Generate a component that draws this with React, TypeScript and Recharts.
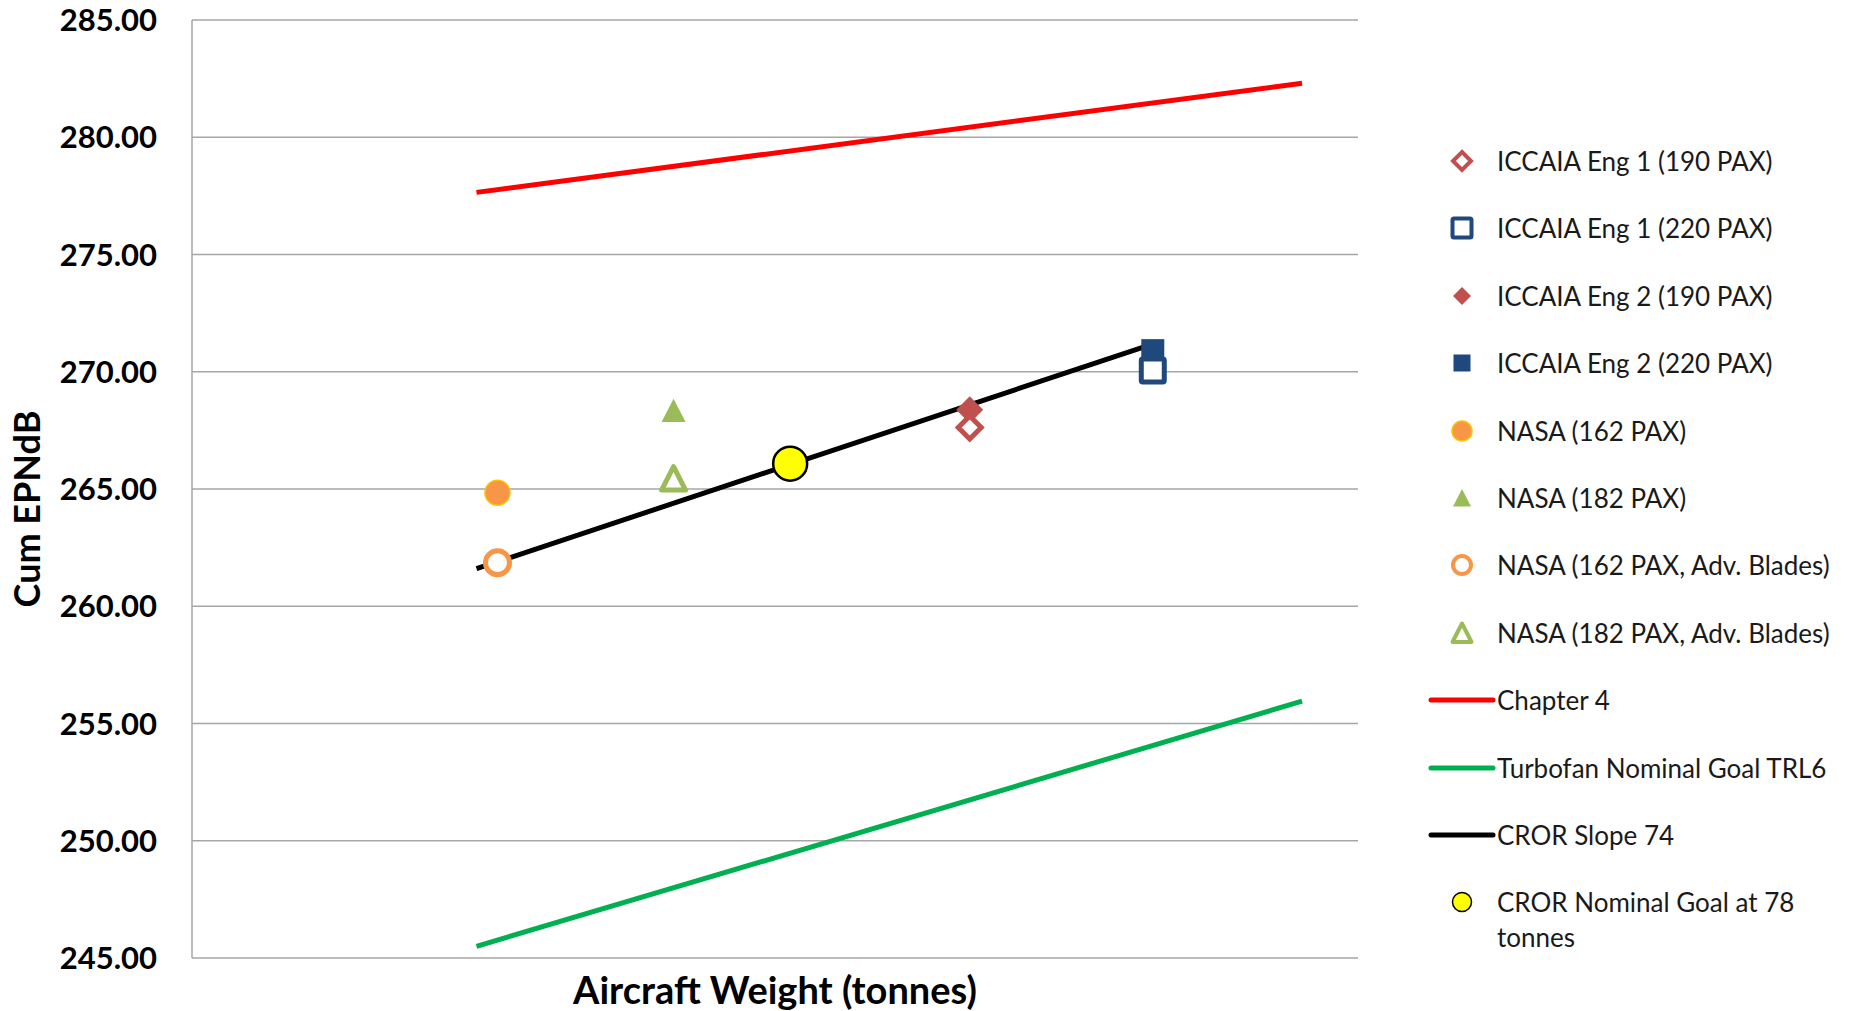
import React from "react";
import {
    ComposedChart,
    Line,
    Scatter,
    XAxis,
    YAxis,
    CartesianGrid,
} from "recharts";

const FONT = "Lato, 'Liberation Sans', Arial, sans-serif";

// the original has no weight scale, so x runs 0-100 across the plot
const chapter4X = [24.4, 95.2];
const chapter4Y = [277.65, 282.3];
const turbofanGoalX = [24.4, 95.2];
const turbofanGoalY = [245.5, 255.95];
const crorSlopeX = [24.4, 81.6];
const crorSlopeY = [261.6, 271.05];

const markerNames = [
    "ICCAIA Eng 1 (190 PAX)",
    "ICCAIA Eng 1 (220 PAX)",
    "ICCAIA Eng 2 (190 PAX)",
    "ICCAIA Eng 2 (220 PAX)",
    "NASA (162 PAX)",
    "NASA (182 PAX)",
    "NASA (162 PAX, Adv. Blades)",
    "NASA (182 PAX, Adv. Blades)",
];
const markerX = [66.7, 82.4, 66.7, 82.4, 26.2, 41.3, 26.2, 41.3];
const markerY = [267.62, 270.05, 268.38, 270.9, 264.84, 268.34, 261.86, 265.44];

const goalName = "CROR Nominal Goal at 78\ntonnes";
const goalX = [51.3];
const goalY = [266.08];

const yTicks = [245, 250, 255, 260, 265, 270, 275, 280, 285];

type Kind = "diamond" | "square" | "circle" | "triangle";

interface MarkerStyle {
    kind: Kind;
    open: boolean;
    color: string;
    edge?: string;
}

const markerStyles: MarkerStyle[] = [
    { kind: "diamond", open: true, color: "#C0504D" },
    { kind: "square", open: true, color: "#1F497D" },
    { kind: "diamond", open: false, color: "#C0504D" },
    { kind: "square", open: false, color: "#1F497D" },
    { kind: "circle", open: false, color: "#F79646", edge: "#FFC000" },
    { kind: "triangle", open: false, color: "#9BBB59" },
    { kind: "circle", open: true, color: "#F79646" },
    { kind: "triangle", open: true, color: "#9BBB59" },
];

const toPoints = (xs: number[], ys: number[]) =>
    xs.map((x, i) => ({ x, y: ys[i] }));

function shape(
    st: MarkerStyle,
    cx: number,
    cy: number,
    s: number,
    sw: number,
    edgeW = 1.5
) {
    const fill = st.open ? "#ffffff" : st.color;
    const stroke = st.open ? st.color : st.edge ?? "none";
    const width = st.open ? sw : edgeW;
    if (st.kind === "diamond") {
        return (
            <path
                d={`M${cx},${cy - s}L${cx + s},${cy}L${cx},${cy + s}L${cx - s},${cy}Z`}
                fill={fill}
                stroke={stroke}
                strokeWidth={width}
            />
        );
    }
    if (st.kind === "square") {
        return (
            <rect
                x={cx - s}
                y={cy - s}
                width={2 * s}
                height={2 * s}
                fill={fill}
                stroke={stroke}
                strokeWidth={width}
                rx={st.open ? 1.5 : 0}
            />
        );
    }
    if (st.kind === "circle") {
        return <circle cx={cx} cy={cy} r={s} fill={fill} stroke={stroke} strokeWidth={width} />;
    }
    return (
        <path
            d={`M${cx},${cy - s}L${cx + s},${cy + s * 0.95}L${cx - s},${cy + s * 0.95}Z`}
            fill={fill}
            stroke={stroke}
            strokeWidth={width}
            strokeLinejoin="round"
        />
    );
}

// sizes on the plot
const plotSize: Record<string, [number, number]> = {
    "diamond-open": [11.5, 5],
    "diamond-filled": [13.5, 0],
    "square-open": [11.5, 5],
    "square-filled": [11.5, 0],
    "circle-open": [12, 5],
    "circle-filled": [12.5, 0],
    "triangle-open": [12, 5],
    "triangle-filled": [12, 0],
};

// sizes in the legend
const legendSize: Record<string, [number, number]> = {
    "diamond-open": [9, 4],
    "diamond-filled": [9, 0],
    "square-open": [9.5, 4],
    "square-filled": [8.5, 0],
    "circle-open": [9, 4],
    "circle-filled": [10, 0],
    "triangle-open": [9.5, 4],
    "triangle-filled": [9, 0],
};

const keyOf = (st: MarkerStyle) => `${st.kind}-${st.open ? "open" : "filled"}`;

const goalStyle: MarkerStyle = { kind: "circle", open: false, color: "#FFFF00", edge: "#000000" };

const lineSeries = [
    { name: "Chapter 4", color: "#FF0000", width: 5, data: toPoints(chapter4X, chapter4Y) },
    { name: "Turbofan Nominal Goal TRL6", color: "#00B050", width: 5, data: toPoints(turbofanGoalX, turbofanGoalY) },
    { name: "CROR Slope 74", color: "#000000", width: 5, data: toPoints(crorSlopeX, crorSlopeY) },
];

// filled series first, open series drawn over them
const drawOrder = [2, 3, 4, 5, 0, 1, 6, 7];

function LegendBox() {
    const top = 161;
    const step = 67.4;
    const rows: React.ReactNode[] = [];
    const row = (i: number, icon: React.ReactNode, label: string) => (
        <div key={i} style={{ position: "absolute", left: 0, top: top + i * step - 17, height: 34 }}>
            <svg width={70} height={34} style={{ position: "absolute", left: 1427, top: 0 }}>
                {icon}
            </svg>
            <div
                style={{
                    position: "absolute",
                    left: 1497,
                    top: 0,
                    lineHeight: "35px",
                    fontSize: 26,
                    color: "#1a1a1a",
                    whiteSpace: "pre",
                    fontFamily: FONT,
                }}
            >
                {label}
            </div>
        </div>
    );
    markerNames.forEach((name, i) => {
        const st = markerStyles[i];
        const [s, sw] = legendSize[keyOf(st)];
        rows.push(row(i, shape(st, 35, 17, s, sw, 1.5), name));
    });
    lineSeries.forEach((ls, j) => {
        rows.push(
            row(
                8 + j,
                <line x1={4} y1={17} x2={66} y2={17} stroke={ls.color} strokeWidth={5} strokeLinecap="round" />,
                ls.name
            )
        );
    });
    rows.push(row(11, shape(goalStyle, 35, 17, 9.5, 0, 1.5), goalName));
    return <>{rows}</>;
}

export default function App() {
    return (
        <div
            style={{
                position: "absolute",
                left: 0,
                top: 0,
                width: 1855,
                height: 1011,
                background: "#ffffff",
                fontFamily: FONT,
            }}
        >
            <ComposedChart
                width={1855}
                height={1011}
                margin={{ top: 20, right: 497, bottom: 0, left: 0 }}
            >
                <CartesianGrid vertical={false} stroke="#a6a6a6" strokeWidth={1.5} />
                <XAxis
                    type="number"
                    dataKey="x"
                    domain={[0, 100]}
                    allowDataOverflow
                    tick={false}
                    tickLine={false}
                    axisLine={false}
                    height={53}
                    label={{
                        content: (p: any) => {
                            const vb = p.viewBox;
                            return (
                                <text
                                    x={vb.x + vb.width / 2}
                                    y={vb.y + 31}
                                    textAnchor="middle"
                                    dominantBaseline="central"
                                    fontSize={38}
                                    fontWeight="bold"
                                    fill="#000"
                                    fontFamily={FONT}
                                >
                                    Aircraft Weight (tonnes)
                                </text>
                            );
                        },
                    }}
                />
                <YAxis
                    type="number"
                    dataKey="y"
                    domain={[245, 285]}
                    ticks={yTicks}
                    interval={0}
                    width={192}
                    tickFormatter={(v: number) => v.toFixed(2)}
                    tick={{ fill: "#000", fontSize: 31, fontWeight: "bold", fontFamily: FONT }}
                    tickLine={false}
                    tickMargin={29}
                    axisLine={{ stroke: "#a6a6a6", strokeWidth: 1.5 }}
                    label={{
                        content: (p: any) => {
                            const vb = p.viewBox;
                            const cx = vb.x + 26;
                            const cy = vb.y + vb.height / 2 + 20;
                            return (
                                <text
                                    x={cx}
                                    y={cy}
                                    transform={`rotate(-90 ${cx} ${cy})`}
                                    textAnchor="middle"
                                    dominantBaseline="central"
                                    fontSize={36}
                                    fontWeight="bold"
                                    fill="#000"
                                    fontFamily={FONT}
                                >
                                    Cum EPNdB
                                </text>
                            );
                        },
                    }}
                />
                {drawOrder.map((i) => {
                    const st = markerStyles[i];
                    const [s, sw] = plotSize[keyOf(st)];
                    return (
                        <Scatter
                            key={markerNames[i]}
                            name={markerNames[i]}
                            data={[{ x: markerX[i], y: markerY[i] }]}
                            isAnimationActive={false}
                            shape={(p: any) => shape(st, p.cx, p.cy, s, sw, 1.5)}
                        />
                    );
                })}
                {lineSeries.map((ls) => (
                    <Line
                        key={ls.name}
                        name={ls.name}
                        data={ls.data}
                        dataKey="y"
                        stroke={ls.color}
                        strokeWidth={ls.width}
                        dot={false}
                        activeDot={false}
                        isAnimationActive={false}
                    />
                ))}
                <Scatter
                    name={goalName}
                    data={toPoints(goalX, goalY)}
                    isAnimationActive={false}
                    shape={(p: any) => shape(goalStyle, p.cx, p.cy, 17, 0, 2.5)}
                />
            </ComposedChart>
            <LegendBox />
        </div>
    );
}
